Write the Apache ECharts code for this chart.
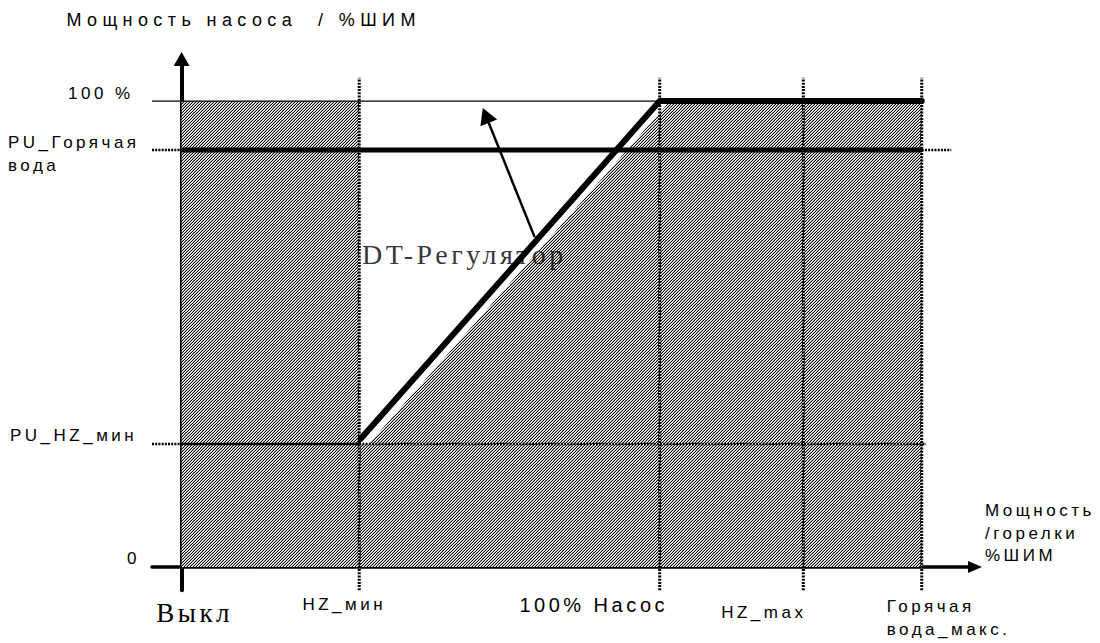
<!DOCTYPE html>
<html>
<head>
<meta charset="utf-8">
<script src="https://cdn.jsdelivr.net/npm/echarts@6/dist/echarts.min.js"></script>
<style>
  html, body { margin: 0; padding: 0; background: #fff; }
  #chart { width: 1100px; height: 643px; letter-spacing: 3.5px; }
  #chart text[style*="18px"] { letter-spacing: 5.4px; }
  #chart image { image-rendering: pixelated; }
</style>
</head>
<body>
<div id="chart"></div>
<script>
// x: мощность горелки, y: мощность насоса (%)
var xMarks = [0, 24, 64.6, 84, 100];
var xMarkNames = ['Выкл', 'HZ_мин', '100% Насос', 'HZ_max', 'Горячая\nвода_макс.'];
var yMarks = [0, 26.4, 89.5, 100];
var yMarkNames = ['0', 'PU_HZ_мин', 'PU_Горячая\nвода', '100 %'];

// характеристика DT-регулятора
var regulator = [[24.2, 27.5], [64.6, 100], [100, 100]];
// граница заштрихованной области
var hatchEdge = [[0, 100], [24, 100], [24, 26.4], [25.3, 26.4], [66, 100], [100, 100]];

var regulatorName = 'DT-Регулятор';

var sans = "'Liberation Sans', Arial, sans-serif";
var serif = "'Liberation Serif', 'Times New Roman', serif";

function hatchPattern() {
    var c = document.createElement('canvas');
    c.width = 3; c.height = 3;
    var g = c.getContext('2d');
    var shades = ['#000', '#fff', '#b4b4b4'];
    for (var x = 0; x < 3; x++) {
        for (var y = 0; y < 3; y++) {
            g.fillStyle = shades[(x + y) % 3];
            g.fillRect(x, y, 1, 1);
        }
    }
    return c;
}

function seg(data, width, dotted) {
    return {
        type: 'line', data: data, symbol: 'none', silent: true, z: 3,
        lineStyle: { color: '#000', width: width, type: dotted ? [2, 1.2] : 'solid' }
    };
}

// подписи с отдельным стилем для каждой строки
function wrap(text, keys) {
    return text.split('\n').map(function (line, i) {
        return '{' + keys[i] + '|' + line + '}';
    }).join('\n');
}
var xKeys = [['off'], ['hzmin'], ['pump'], ['hzmax'], ['hw1', 'hw2']];
var yKeys = [['zero'], ['puhz'], ['pw1', 'pw2'], ['full']];

var series = [];
// штриховка
series.push({
    type: 'line', data: hatchEdge, symbol: 'none', silent: true, z: 1,
    lineStyle: { width: 0 },
    areaStyle: { color: { image: hatchPattern(), repeat: 'repeat' }, opacity: 1 }
});
// вертикальные пунктиры
xMarks.slice(1).forEach(function (x) {
    series.push(seg([[x, -5], [x, 105]], 3, true));
});
// 100 %
series.push(seg([[-4, yMarks[3]], [100, yMarks[3]]], 1.3, false));
// PU_Горячая вода
series.push(seg([[0, yMarks[2]], [100, yMarks[2]]], 5, false));
series.push(seg([[-4, yMarks[2]], [0, yMarks[2]]], 2.5, true));
series.push(seg([[100, yMarks[2]], [104, yMarks[2]]], 2.5, true));
// PU_HZ_мин
series.push(seg([[0, yMarks[1]], [xMarks[1], yMarks[1]]], 2.5, false));
series.push(seg([[-4, yMarks[1]], [0, yMarks[1]]], 2.5, true));
series.push(seg([[xMarks[1], yMarks[1]], [100.6, yMarks[1]]], 2.5, true));
// DT-регулятор
series.push({
    type: 'line', data: regulator, symbol: 'none', silent: true, z: 5,
    lineStyle: { color: '#000', width: 6, cap: 'round', join: 'round' }
});
// надпись и стрелка
series.push({
    type: 'scatter', data: [[24.3, 67]], symbolSize: 1, silent: true, z: 6,
    itemStyle: { color: 'rgba(0,0,0,0)' },
    label: {
        show: true, position: 'right', distance: 0, formatter: regulatorName,
        fontFamily: serif, fontSize: 28, color: '#000'
    },
    markLine: {
        silent: true, symbol: ['none', 'triangle'], symbolSize: [18, 16],
        label: { show: false },
        lineStyle: { color: '#000', width: 2.5, type: 'solid' },
        data: [[{ coord: [47.7, 70.8] }, { coord: [41.1, 96.9] }]]
    }
});

var chart = echarts.init(document.getElementById('chart'), null, { renderer: 'svg' });
chart.setOption({
    animation: false,
    backgroundColor: '#fff',
    grid: { left: 152, right: 125, top: 59.1, bottom: 52.7, containLabel: false, outerBoundsMode: 'none' },
    xAxis: {
        type: 'value', min: -4, max: 107.2,
        splitLine: { show: false },
        axisTick: { show: false },
        axisLine: {
            onZero: true, symbol: ['none', 'triangle'], symbolSize: [12, 14],
            lineStyle: { color: '#000', width: 3.5 }
        },
        axisLabel: {
            customValues: xMarks, margin: 0, color: '#000', fontFamily: sans, fontSize: 17,
            formatter: function (v) {
                var i = xMarks.indexOf(v);
                return i < 0 ? '' : wrap(xMarkNames[i], xKeys[i]);
            },
            rich: {
                off: { fontFamily: serif, fontSize: 27, color: '#000', padding: [9, 0, 0, 26] },
                hzmin: { fontFamily: sans, fontSize: 17, color: '#000', padding: [6, 30, 0, 0] },
                pump: { fontFamily: sans, fontSize: 20, color: '#000', padding: [4.5, 132, 0, 0] },
                hzmax: { fontFamily: sans, fontSize: 17, color: '#000', padding: [14, 79, 0, 0] },
                hw1: { fontFamily: sans, fontSize: 17, color: '#000', width: 111, align: 'left', padding: [8, 0, 0, 41] },
                hw2: { fontFamily: sans, fontSize: 17, color: '#000', width: 111, align: 'left', padding: [6, 0, 0, 41] }
            }
        },
        name: 'Мощность\n/горелки\n%ШИМ',
        nameLocation: 'end', nameGap: 10, nameMoveOverlap: false,
        nameTextStyle: {
            fontFamily: sans, fontSize: 17, color: '#000', align: 'left',
            verticalAlign: 'bottom', lineHeight: 22.5
        }
    },
    yAxis: {
        type: 'value', min: -5, max: 109,
        splitLine: { show: false },
        axisTick: { show: false },
        axisLine: {
            onZero: true, symbol: ['none', 'triangle'], symbolSize: [16, 14],
            lineStyle: { color: '#000', width: 4 }
        },
        axisLabel: {
            customValues: yMarks, margin: 144, align: 'left', color: '#000', fontFamily: sans, fontSize: 17,
            formatter: function (v) {
                var i = yMarks.indexOf(v);
                return i < 0 ? '' : wrap(yMarkNames[i], yKeys[i]);
            },
            rich: {
                zero: { fontFamily: sans, fontSize: 17, color: '#000', padding: [0, 0, 18, 119] },
                puhz: { fontFamily: sans, fontSize: 17, color: '#000', padding: [0, 0, 16, 2] },
                pw1: { fontFamily: sans, fontSize: 17, color: '#000', padding: [9, 0, 0, 0] },
                pw2: { fontFamily: sans, fontSize: 17, color: '#000', padding: [6, 0, 0, 0] },
                full: { fontFamily: sans, fontSize: 17, color: '#000', padding: [0, 0, 16, 60] }
            }
        },
        name: 'Мощность насоса  / %ШИМ',
        nameLocation: 'end', nameGap: 30, nameMoveOverlap: false,
        nameTextStyle: {
            fontFamily: sans, fontSize: 18, color: '#000', align: 'center',
            padding: [0, 0, 0, 124]
        }
    },
    series: series
});
</script>
</body>
</html>
